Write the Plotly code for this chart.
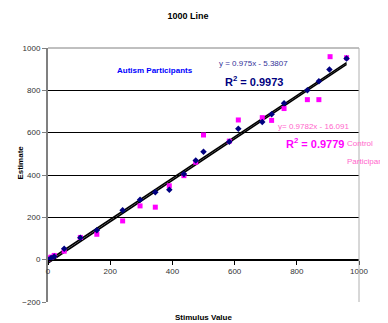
import plotly.graph_objects as go

# Data
autism_x = [0, 10, 20, 52, 104, 157, 240, 296, 345, 390, 437, 475, 500, 583, 612, 689, 719, 759, 834, 871, 905, 960]
autism_y = [0, 8, 15, 52, 104, 139, 234, 283, 319, 330, 405, 468, 510, 557, 619, 650, 687, 739, 800, 843, 899, 950]

control_x = [0, 5, 10, 20, 52, 104, 157, 240, 296, 345, 390, 437, 475, 500, 583, 612, 689, 719, 759, 834, 871, 907, 960]
control_y = [3, 8, 12, 20, 40, 105, 120, 183, 254, 248, 349, 397, 460, 589, 560, 660, 671, 658, 714, 756, 756, 959, 954]

# Trendline coefficients as labelled on the chart
autism_slope, autism_int = 0.975, -5.3807
control_slope, control_int = 0.9782, -16.091
trend_x = [0, 960]

x_ticks = [0, 200, 400, 600, 800, 1000]
y_ticks = [-200, 0, 200, 400, 600, 800, 1000]

FONT = "Liberation Sans, Arial, sans-serif"

fig = go.Figure()

fig.add_trace(go.Scatter(
    x=trend_x, y=[autism_slope * v + autism_int for v in trend_x],
    mode="lines", line=dict(color="black", width=1.6), hoverinfo="skip"))
fig.add_trace(go.Scatter(
    x=trend_x, y=[control_slope * v + control_int for v in trend_x],
    mode="lines", line=dict(color="black", width=1.6), hoverinfo="skip"))

fig.add_trace(go.Scatter(
    x=control_x, y=control_y, mode="markers", name="Control Participants",
    marker=dict(symbol="square", size=5, color="#ff00ff")))
fig.add_trace(go.Scatter(
    x=autism_x, y=autism_y, mode="markers", name="Autism Participants",
    marker=dict(symbol="diamond", size=5, color="#000080")))

# the page body has an 8px margin, so the figure is 8px smaller than the window
fig.update_layout(
    width=380, height=315,
    margin=dict(l=40, r=29, t=40, b=21),
    paper_bgcolor="white", plot_bgcolor="white",
    showlegend=False,
    font=dict(family=FONT, size=8, color="#333333"),
    title=dict(text="<b>1000 Line</b>", x=0.474, xanchor="center", y=0.975, yanchor="middle",
               font=dict(family=FONT, size=9, color="black")),
    xaxis=dict(range=[0, 1000], tickvals=x_ticks, ticks="outside", ticklen=4,
               tickcolor="black", showline=True, linecolor="black", linewidth=1,
               showgrid=False, zeroline=False, anchor="free", position=1/6,
               tickfont=dict(size=8, color="#333333")),
    yaxis=dict(range=[-200, 1000], tickvals=y_ticks, ticks="outside", ticklen=4,
               tickcolor="#808080", showline=True, linecolor="#808080", linewidth=2,
               showgrid=True, gridcolor="black", gridwidth=1, zeroline=False,
               tickfont=dict(size=8, color="#333333")),
    shapes=[
        dict(type="line", xref="paper", yref="paper", x0=0, x1=1, y0=1, y1=1,
             line=dict(color="#808080", width=1)),
        dict(type="line", xref="paper", yref="paper", x0=1, x1=1, y0=0, y1=1,
             line=dict(color="#b0b0b0", width=1)),
    ],
    annotations=[
        dict(text="<b>Stimulus Value</b>", xref="paper", yref="paper", x=0.5, y=-0.035,
             yanchor="top", showarrow=False, font=dict(size=8, color="black")),
        dict(text="<b>Estimate</b>", xref="paper", yref="paper", x=-0.11, y=0.55,
             textangle=-90, showarrow=False, font=dict(size=8, color="black")),
        dict(text="<b>Autism Participants</b>", x=345, y=892, showarrow=False,
             font=dict(size=8, color="#0000ff")),
        dict(text="y = 0.975x - 5.3807", x=662, y=928, showarrow=False,
             font=dict(size=8, color="#333399")),
        dict(text="<b>R<sup>2</sup> = 0.9973</b>", x=662, y=842, showarrow=False,
             font=dict(size=11, color="#000080")),
        dict(text="y= 0.9782x - 16.091", x=855, y=627, showarrow=False,
             font=dict(size=8, color="#ff66cc")),
        dict(text="<b>R<sup>2</sup> = 0.9779</b>", x=858, y=550, showarrow=False,
             font=dict(size=11, color="#ff00ff")),
        dict(text="Control", x=955, y=550, xanchor="left", showarrow=False,
             font=dict(size=8, color="#ff66cc")),
        dict(text="Participants", x=955, y=465, xanchor="left", showarrow=False,
             font=dict(size=8, color="#ff66cc")),
    ],
)

fig.write_html("out.html")
